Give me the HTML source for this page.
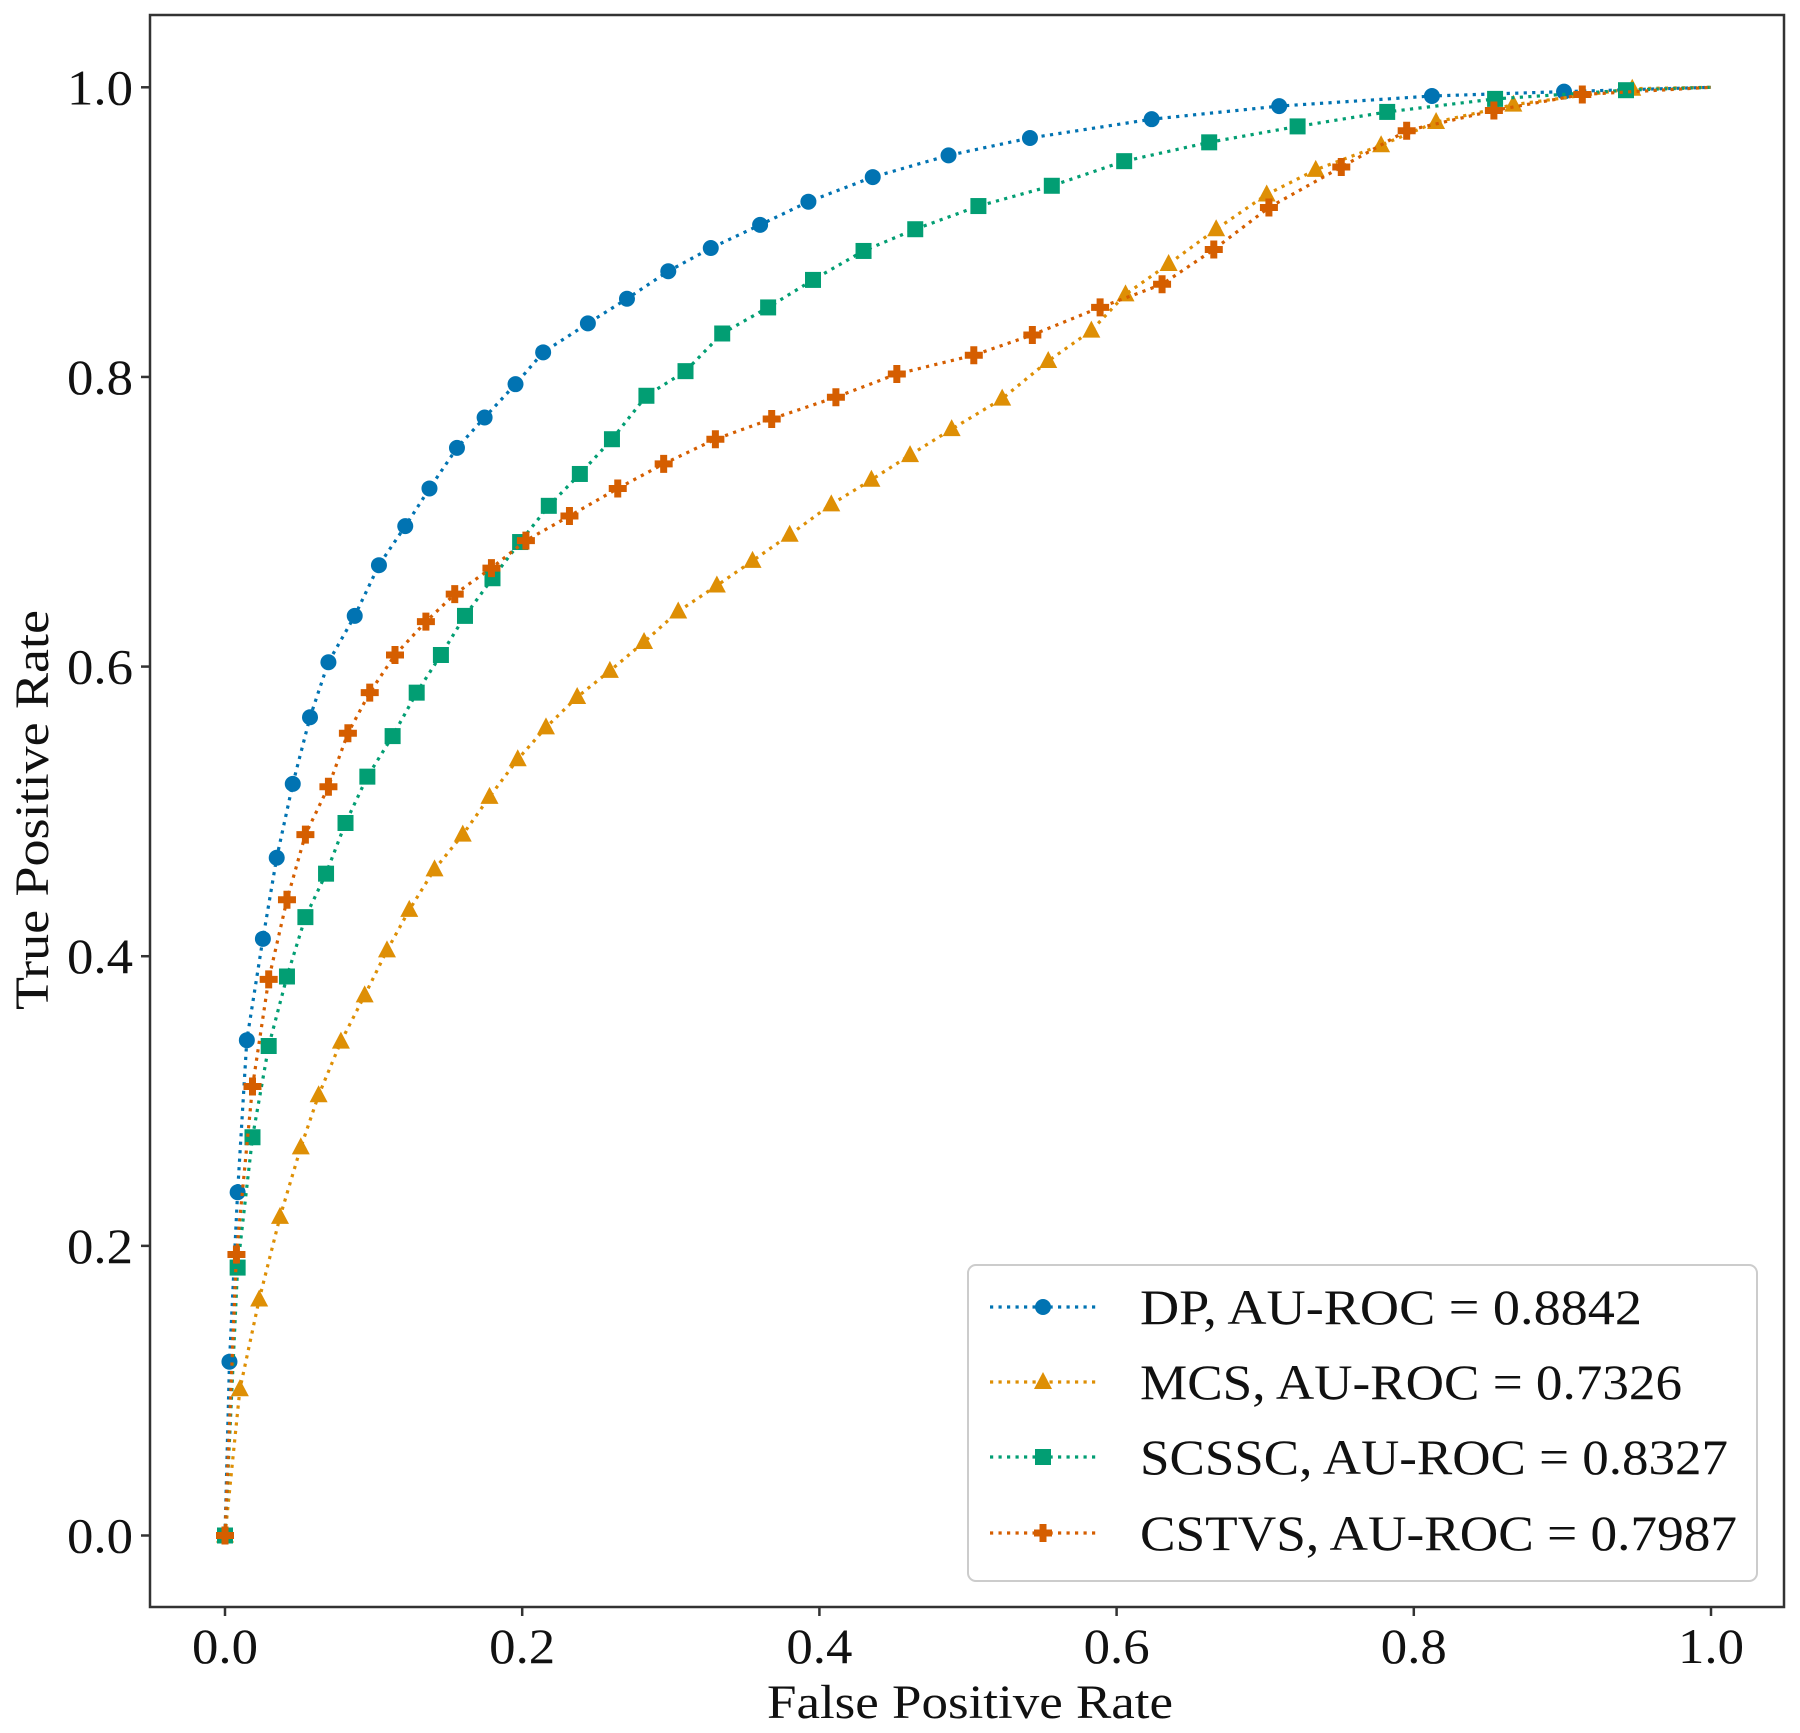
<!DOCTYPE html>
<html><head><meta charset="utf-8"><style>
body{margin:0;background:#fff}
svg{display:block}
text{font-family:"Liberation Serif","DejaVu Serif",serif;fill:#111}
</style></head><body>
<svg id="chart" width="1800" height="1733" xmlns="http://www.w3.org/2000/svg">
<rect x="150" y="15" width="1634" height="1592" fill="none" stroke="#333" stroke-width="2.5"/>
<g id="axes"></g>
<g id="series"></g>
<text x="970" y="1718" font-size="48" text-anchor="middle" textLength="406" lengthAdjust="spacingAndGlyphs">False Positive Rate</text>
<text transform="translate(48,810) rotate(-90)" font-size="48" text-anchor="middle" textLength="400" lengthAdjust="spacingAndGlyphs">True Positive Rate</text>
<g id="legend">
<rect x="968" y="1265" width="789" height="316" rx="8" fill="#fff" stroke="#ccc" stroke-width="2"/>
</g>
</svg>
<script>
const xTicks=[0,0.2,0.4,0.6,0.8,1.0];
const yTicks=[0,0.2,0.4,0.6,0.8,1.0];
const names=["DP, AU-ROC = 0.8842","MCS, AU-ROC = 0.7326","SCSSC, AU-ROC = 0.8327","CSTVS, AU-ROC = 0.7987"];
const nameWidths=[502,542,588,597];
const colors=["#0173b2","#de8f05","#029e73","#d55e00"];
const markers=["circle","triangle","square","plus"];
const dpX=[0,.003,.0085,.0147,.0255,.0348,.0456,.0572,.0696,.0873,.1036,.1213,.1376,.1561,.1747,.1955,.2141,.2442,.2705,.2983,.3269,.3601,.3926,.4359,.4869,.5417,.6236,.7094,.8122,.9011,1];
const dpY=[0,.120,.237,.342,.412,.468,.519,.565,.603,.635,.670,.697,.723,.751,.772,.795,.817,.837,.854,.873,.889,.905,.921,.938,.953,.965,.978,.987,.994,.997,1];
const mcsX=[0,.010,.023,.037,.051,.063,.078,.094,.109,.124,.141,.160,.178,.197,.216,.237,.259,.282,.305,.331,.355,.380,.408,.435,.461,.489,.523,.554,.583,.606,.635,.667,.701,.734,.778,.815,.867,.947,1];
const mcsY=[0,.101,.163,.220,.268,.304,.341,.373,.404,.432,.460,.484,.510,.536,.558,.579,.597,.617,.638,.656,.673,.691,.712,.729,.746,.764,.785,.811,.832,.857,.878,.902,.926,.943,.960,.976,.988,.999,1];
const scX=[0,.0085,.0185,.0294,.0417,.0541,.068,.0811,.0958,.1128,.129,.1453,.1615,.180,.1986,.2179,.2388,.2604,.2836,.3099,.3346,.3655,.3957,.4297,.4645,.507,.5564,.6051,.6623,.7218,.7821,.8547,.9428,1];
const scY=[0,.185,.275,.338,.386,.427,.457,.492,.524,.552,.582,.608,.635,.661,.686,.711,.733,.757,.787,.804,.830,.848,.867,.887,.902,.918,.932,.949,.962,.973,.983,.992,.998,1];
const csX=[0,.0077,.0185,.0294,.0417,.0541,.0696,.0827,.0974,.1144,.1352,.1546,.1793,.2025,.2318,.2643,.2952,.33,.3679,.4111,.4521,.5039,.5433,.5889,.6306,.6654,.7025,.7512,.7952,.8539,.9134,1];
const csY=[0,.194,.310,.384,.439,.484,.517,.554,.582,.608,.631,.650,.668,.687,.704,.723,.740,.757,.771,.786,.802,.815,.829,.848,.864,.888,.917,.945,.970,.984,.995,1];
const seriesX=[dpX,mcsX,scX,csX], seriesY=[dpY,mcsY,scY,csY];
const NS="http://www.w3.org/2000/svg";
const X=v=>225+v*(1711-225), Y=v=>1535.5-v*(1535.5-87.3);
function mk(tag,attrs,parent){const e=document.createElementNS(NS,tag);for(const k in attrs)e.setAttribute(k,attrs[k]);parent.appendChild(e);return e;}
const axes=document.getElementById('axes');
xTicks.forEach(t=>{
 const l=mk('line',{x1:X(t),x2:X(t),y1:1607,y2:1616,stroke:'#333','stroke-width':2.5},axes);
 
 
 const tx=mk('text',{x:X(t),y:1663,'font-size':50,'text-anchor':'middle',textLength:66,lengthAdjust:'spacingAndGlyphs'},axes);
 tx.textContent=t.toFixed(1);
 
 
});
yTicks.forEach(t=>{
 const l=mk('line',{x1:141,x2:150,y1:Y(t),y2:Y(t),stroke:'#333','stroke-width':2.5},axes);
 
 
 const tx=mk('text',{x:133,y:Y(t)+17,'font-size':50,'text-anchor':'end',textLength:66,lengthAdjust:'spacingAndGlyphs'},axes);
 tx.textContent=t.toFixed(1);
 
 
});
function marker(type,cx,cy,c,parent){
 let e;
 if(type==='circle')e=mk('circle',{cx,cy,r:8,fill:c},parent);
 else if(type==='square')e=mk('rect',{x:cx-8,y:cy-8,width:16,height:16,fill:c},parent);
 else if(type==='triangle')e=mk('polygon',{points:`${cx},${cy-10} ${cx-9},${cy+7} ${cx+9},${cy+7}`,fill:c},parent);
 else e=mk('path',{d:`M${cx-3.5},${cy-9}h7v5.5h5.5v7h-5.5v5.5h-7v-5.5h-5.5v-7h5.5z`,fill:c},parent);
 return e;
}
const sg=document.getElementById('series');
seriesX.forEach((xs,i)=>{
 const g=mk('g',{},sg);
 
 
 const d=xs.map((x,j)=>(j?'L':'M')+X(x).toFixed(1)+','+Y(seriesY[i][j]).toFixed(1)).join('');
 const p=mk('path',{d,fill:'none',stroke:colors[i],'stroke-width':3.2,'stroke-dasharray':'3.2 5.3'},g);
 
 
 xs.forEach((x,j)=>{
  if(j===xs.length-1)return;
  const m=marker(markers[i],X(x),Y(seriesY[i][j]),colors[i],g);
  
  
 });
});
const lg=document.getElementById('legend');
const ly=[1307,1382,1457,1533];
names.forEach((n,i)=>{
 const g=mk('g',{},lg);
 
 
 mk('line',{x1:990,x2:1096,y1:ly[i],y2:ly[i],stroke:colors[i],'stroke-width':3.2,'stroke-dasharray':'3.2 5.3'},g);
 marker(markers[i],1043,ly[i],colors[i],g);
 const t=mk('text',{x:1140,y:ly[i]+17,'font-size':50,textLength:nameWidths[i],lengthAdjust:'spacingAndGlyphs'},g);
 t.textContent=n;
});
</script>
</body></html>
